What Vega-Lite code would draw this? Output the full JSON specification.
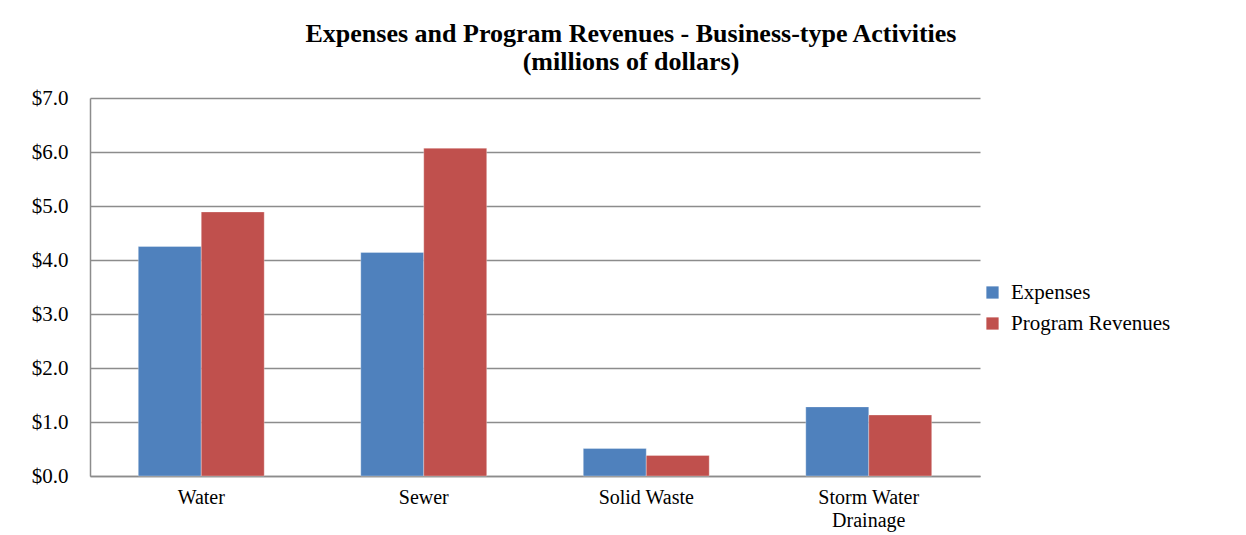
{
  "$schema": "https://vega.github.io/schema/vega-lite/v6.json",
  "width": 890,
  "height": 378,
  "autosize": {"type": "none"},
  "padding": {"left": 90, "top": 98, "right": 276, "bottom": 59},
  "background": "white",
  "title": {
    "text": ["Expenses and Program  Revenues - Business-type Activities", "(millions  of dollars)"],
    "font": "Liberation Serif",
    "fontSize": 26,
    "fontWeight": "bold",
    "color": "#000000",
    "anchor": "middle",
    "dx": 96,
    "offset": 12,
    "lineHeight": 28
  },
  "data": {
    "values": [
      {"activity": "Water", "series": "Expenses", "value": 4.25},
      {"activity": "Water", "series": "Program Revenues", "value": 4.89},
      {"activity": "Sewer", "series": "Expenses", "value": 4.14},
      {"activity": "Sewer", "series": "Program Revenues", "value": 6.07},
      {"activity": "Solid Waste", "series": "Expenses", "value": 0.51},
      {"activity": "Solid Waste", "series": "Program Revenues", "value": 0.38},
      {"activity": "Storm Water Drainage", "series": "Expenses", "value": 1.28},
      {"activity": "Storm Water Drainage", "series": "Program Revenues", "value": 1.13}
    ]
  },
  "mark": {"type": "bar", "stroke": "white", "strokeWidth": 0.5, "strokeOpacity": 0.6},
  "encoding": {
    "x": {
      "field": "activity",
      "type": "nominal",
      "sort": ["Water", "Sewer", "Solid Waste", "Storm Water Drainage"],
      "scale": {"paddingInner": 0.434, "paddingOuter": 0.217},
      "axis": {
        "title": null,
        "labelAngle": 0,
        "labelFont": "Liberation Serif",
        "labelFontSize": 20,
        "labelColor": "#000000",
        "labelPadding": 11,
        "labelExpr": "datum.label == 'Storm Water Drainage' ? ['Storm Water', 'Drainage'] : datum.label",
        "labelLineHeight": 23,
        "ticks": false,
        "domainColor": "#8c8c8c",
        "domainWidth": 1.5
      }
    },
    "xOffset": {"field": "series", "type": "nominal", "sort": ["Expenses", "Program Revenues"]},
    "y": {
      "field": "value",
      "type": "quantitative",
      "scale": {"domain": [0, 7], "nice": false},
      "axis": {
        "title": null,
        "values": [0, 1, 2, 3, 4, 5, 6, 7],
        "format": "$.1f",
        "labelFont": "Liberation Serif",
        "labelFontSize": 21,
        "labelColor": "#000000",
        "labelPadding": 22,
        "ticks": false,
        "grid": true,
        "gridColor": "#8c8c8c",
        "gridWidth": 1.5,
        "domainColor": "#8c8c8c",
        "domainWidth": 1.5
      }
    },
    "color": {
      "field": "series",
      "type": "nominal",
      "sort": ["Expenses", "Program Revenues"],
      "scale": {"domain": ["Expenses", "Program Revenues"], "range": ["#4F81BD", "#C0504D"]},
      "legend": {
        "title": null,
        "orient": "none",
        "legendX": 892,
        "legendY": 184,
        "symbolType": "square",
        "symbolSize": 150,
        "symbolStrokeWidth": 0,
        "labelFont": "Liberation Serif",
        "labelFontSize": 21,
        "labelColor": "#000000",
        "rowPadding": 9,
        "labelOffset": 8
      }
    }
  },
  "config": {"view": {"stroke": null}}
}
